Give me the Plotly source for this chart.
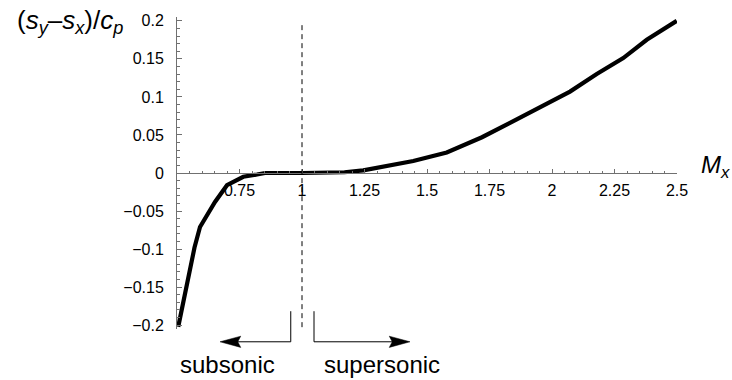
import plotly.graph_objects as go

# Data
mach = [0.505, 0.532, 0.545, 0.57, 0.592, 0.62, 0.652, 0.70, 0.765, 0.82, 0.852,
        1.0, 1.152, 1.17, 1.245, 1.312, 1.392, 1.445, 1.579, 1.645, 1.72, 1.832, 1.965,
        2.072, 2.179, 2.285, 2.379, 2.499]
entropy = [-0.202, -0.159, -0.135, -0.098, -0.071, -0.055, -0.038, -0.016, -0.005, -0.002, 0.0,
           0.0, 0.0, 0.001, 0.0035, 0.0072, 0.0118, 0.0158, 0.027, 0.036, 0.047, 0.066, 0.089,
           0.107, 0.130, 0.151, 0.175, 0.200]

x_tickvals = [0.75, 1.0, 1.25, 1.5, 1.75, 2.0, 2.25, 2.5]
x_ticktext = ["0.75", "1", "1.25", "1.5", "1.75", "2", "2.25", "2.5"]
y_tickvals = [-0.2, -0.15, -0.1, -0.05, 0.0, 0.05, 0.1, 0.15, 0.2]
y_ticktext = ["\u22120.2", "\u22120.15", "\u22120.1", "\u22120.05", "0", "0.05", "0.1", "0.15", "0.2"]

FONT = "Liberation Sans, Arial, Helvetica, sans-serif"
AXC = "#707070"

fig = go.Figure()
fig.add_trace(go.Scatter(x=mach, y=entropy, mode="lines",
                         line=dict(color="black", width=4.2),
                         showlegend=False, hoverinfo="skip"))

fig.update_layout(
    width=732, height=380,
    margin=dict(l=177, r=55, t=13, b=51),
    paper_bgcolor="white", plot_bgcolor="white",
    font=dict(family=FONT, color="black", size=16),
    xaxis=dict(range=[0.5, 2.5], anchor="free", position=0.5,
               showline=True, linecolor=AXC, linewidth=1,
               ticks="inside", ticklen=4, tickwidth=1, tickcolor=AXC,
               tickmode="array", tickvals=x_tickvals, ticktext=x_ticktext,
               tickfont=dict(size=16, family=FONT, color="black"),
               ticklabelstandoff=3,
               minor=dict(ticks="inside", dtick=0.05, tick0=0.5, ticklen=2, tickcolor=AXC),
               showgrid=False, zeroline=False),
    yaxis=dict(range=[-0.205, 0.205],
               showline=True, linecolor=AXC, linewidth=1,
               ticks="inside", ticklen=5, tickwidth=1, tickcolor=AXC,
               tickmode="array", tickvals=y_tickvals, ticktext=y_ticktext,
               tickfont=dict(size=16, family=FONT, color="black"),
               ticklabelstandoff=9,
               minor=dict(ticks="inside", dtick=0.01, tick0=0, ticklen=3, tickcolor=AXC),
               showgrid=False, zeroline=False),
)

# dashed line at M = 1
fig.add_shape(type="line", xref="x", yref="y", x0=1, x1=1, y0=-0.2026, y1=0.197,
              line=dict(color="black", width=1, dash="5px,4px"))

# arrows (x in data, y in paper)
ya_top, ya = 0.057, -0.041
hw, hl, notch = 0.018, 0.083, 0.012
for xv in (0.955, 1.048):
    fig.add_shape(type="line", xref="x", yref="paper", x0=xv, x1=xv, y0=ya_top, y1=ya,
                  line=dict(color="black", width=1))
# subsonic arrow
tip = 0.672
fig.add_shape(type="line", xref="x", yref="paper", x0=0.955, x1=tip + hl - 0.02, y0=ya, y1=ya,
              line=dict(color="black", width=1))
fig.add_shape(type="path", xref="x", yref="paper",
              path=f"M {tip},{ya} L {tip+hl},{ya+hw} L {tip+hl-notch},{ya} L {tip+hl},{ya-hw} Z",
              fillcolor="black", line=dict(color="black", width=0.5))
# supersonic arrow
tip = 1.432
fig.add_shape(type="line", xref="x", yref="paper", x0=1.048, x1=tip - hl + 0.02, y0=ya, y1=ya,
              line=dict(color="black", width=1))
fig.add_shape(type="path", xref="x", yref="paper",
              path=f"M {tip},{ya} L {tip-hl},{ya+hw} L {tip-hl+notch},{ya} L {tip-hl},{ya-hw} Z",
              fillcolor="black", line=dict(color="black", width=0.5))

fig.add_annotation(text="subsonic", x=0.70, y=-0.114, xref="x", yref="paper",
                   showarrow=False, xanchor="center", yanchor="middle",
                   font=dict(size=24, family=FONT, color="black"))
fig.add_annotation(text="supersonic", x=1.318, y=-0.114, xref="x", yref="paper",
                   showarrow=False, xanchor="center", yanchor="middle",
                   font=dict(size=24, family=FONT, color="black"))

fig.add_annotation(text="(<i>s</i><sub><i>y</i></sub>\u2013<i>s</i><sub><i>x</i></sub>)/<i>c</i><sub><i>p</i></sub>",
                   x=-0.214, y=0.985, xref="paper", yref="paper",
                   showarrow=False, xanchor="center", yanchor="middle",
                   font=dict(size=26, family=FONT, color="black"))
fig.add_annotation(text="<i>M</i><sub><i>x</i></sub>",
                   x=1.044, y=0.52, xref="paper", yref="paper",
                   showarrow=False, xanchor="left", yanchor="middle",
                   font=dict(size=24, family=FONT, color="black"))

fig.write_html("out.html")
